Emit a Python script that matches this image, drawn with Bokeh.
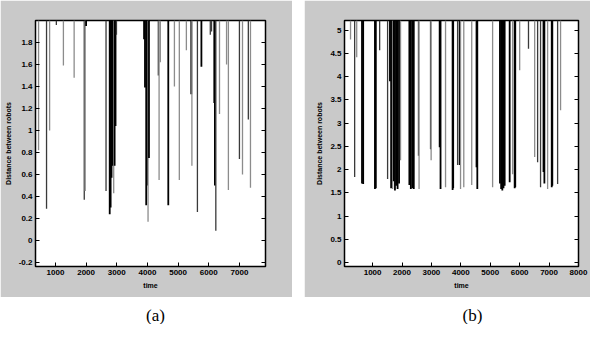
from bokeh.plotting import figure
from bokeh.layouts import row, column
from bokeh.models import FixedTicker, LinearAxis, Label, ColumnDataSource, Spacer
from bokeh.embed import file_html
from bokeh.resources import INLINE

# ---------------- data: panel (a) ----------------
top_a = 2.0
time_a = [450, 710, 810, 1030, 1260, 1610, 1940, 1970, 2000, 2650, 2770, 2800, 2830, 2870,
          2900, 2930, 2960, 2990, 3890, 3920, 3960, 3990, 4020, 4050, 4355, 4380, 4420,
          4680, 4880, 5040, 5270, 5430, 5450, 5630, 5760, 6050, 6090, 6180, 6200, 6230,
          6350, 6580, 6640, 7000, 7100, 7290, 7360]
dist_a = [0.82, 0.29, 1.0, 1.96, 1.59, 1.48, 0.37, 0.45, 1.95, 0.45, 0.24, 0.30, 0.57, 0.68,
          0.43, 0.68, 1.04, 1.87, 1.83, 1.39, 0.32, 0.50, 0.17, 0.75, 1.50, 0.55, 1.62,
          0.32, 1.40, 0.55, 1.73, 1.33, 0.68, 0.26, 1.58, 1.87, 1.90, 1.25, 0.50, 0.09,
          1.15, 1.60, 0.46, 0.74, 0.60, 1.10, 0.48]
xticks_a = [1000, 2000, 3000, 4000, 5000, 6000, 7000]
xlabels_a = ["1000", "2000", "3000", "4000", "5000", "6000", "7000"]
yticks_a = [-0.2, 0, 0.2, 0.4, 0.6, 0.8, 1.0, 1.2, 1.4, 1.6, 1.8]
ylabels_a = ["-0.2", "0", "0.2", "0.4", "0.6", "0.8", "1", "1.2", "1.4", "1.6", "1.8"]

# ---------------- data: panel (b) ----------------
top_b = 5.21
time_b = [250, 390, 460, 640, 680, 1080, 1110, 1240, 1510, 1590, 1630, 1680, 1720, 1760,
          1800, 1850, 1900, 1950, 2250, 2300, 2350, 2400, 2560, 2580, 2970, 2990, 3280,
          3310, 3480, 3720, 3740, 3890, 3960, 3990, 4100, 4370, 4520, 4540, 4560, 5080,
          5330, 5370, 5410, 5450, 5490, 5660, 5760, 5830, 5850, 6000, 6300, 6510, 6610,
          6710, 6810, 6840, 6950, 7090, 7110, 7290, 7390]
dist_b = [4.80, 1.84, 4.42, 1.70, 1.69, 1.58, 1.60, 4.57, 1.80, 3.90, 1.60, 1.58, 1.75, 1.55,
          1.65, 1.58, 1.70, 2.20, 1.67, 1.58, 1.60, 1.58, 2.30, 1.58, 2.44, 2.20, 2.48,
          1.58, 1.62, 1.56, 1.60, 2.10, 2.10, 1.58, 1.62, 1.67, 2.05, 2.05, 1.58, 1.62,
          1.70, 1.58, 1.55, 1.60, 1.65, 1.73, 1.90, 1.60, 1.62, 4.14, 4.60, 2.27, 2.16,
          1.62, 1.95, 1.70, 1.58, 1.62, 1.65, 1.69, 3.28]
xticks_b = [1000, 2000, 3000, 4000, 5000, 6000, 7000, 8000]
xlabels_b = ["1000", "2000", "3000", "4000", "5000", "6000", "7000", "8000"]
yticks_b = [0, 0.5, 1, 1.5, 2, 2.5, 3, 3.5, 4, 4.5, 5]
ylabels_b = ["0", "0.5", "1", "1.5", "2", "2.5", "3", "3.5", "4", "4.5", "5"]

panel_labels = ["(a)", "(b)"]
x_title = "time"
y_title = "Distance between robots"

# ---------------- styles (kept apart from the data) ----------------
tone_a = "gdgdggdgkdkkkkgkkdkkkkgkdggkgggkgdkddkkdgggdgdgd"[:len(time_a)]
tone_b = "gdgkkkkddkkgkkkkkgkkkkdgdgkkgkkdkggggkkgkkkkkkgkkgdgddkkgkkdg"[:len(time_b)]
tone_map = {"k": "#000000", "d": "#3a3a3a", "g": "#8c8c8c"}
width_map = {"k": 1.8, "d": 1.3, "g": 1.3}
BG = "#c9c9c9"
FONT = "Liberation Sans"


def panel(times, dists, tones, top, xr, yr, xt, xl, yt, yl, bl, fw, br):
    p = figure(frame_width=fw, frame_height=246, x_range=xr, y_range=yr,
               output_backend="svg", toolbar_location=None,
               min_border_left=bl, min_border_right=br, min_border_top=20, min_border_bottom=31,
               background_fill_color="white", border_fill_color=BG,
               outline_line_color="black", outline_line_width=1.5)
    p.grid.visible = False
    cols = [tone_map[c] for c in tones]
    wids = [width_map[c] for c in tones]
    src = ColumnDataSource(dict(t=times, d=dists, top=[top] * len(times), c=cols, w=wids))
    p.segment(x0="t", y0="top", x1="t", y1="d", source=src, line_color="c", line_width="w")
    p.xaxis.ticker = FixedTicker(ticks=xt)
    p.xaxis.major_label_overrides = {k: v for k, v in zip(xt, xl)}
    p.yaxis.ticker = FixedTicker(ticks=yt)
    p.yaxis.major_label_overrides = {k: v for k, v in zip(yt, yl)}
    p.xaxis.axis_label = x_title
    p.yaxis.axis_label = y_title
    for ax in (p.xaxis[0], p.yaxis[0]):
        ax.major_tick_in = 4
        ax.major_tick_out = 0
        ax.minor_tick_line_color = None
        ax.axis_line_color = "black"
        ax.major_label_text_font = FONT
        ax.major_label_text_font_style = "bold"
        ax.major_label_text_font_size = "8px"
        ax.major_label_text_color = "black"
        ax.axis_label_text_font = FONT
        ax.axis_label_text_font_style = "bold"
        ax.axis_label_text_font_size = "7px"
        ax.axis_label_text_color = "black"
        ax.major_label_standoff = 3
        ax.axis_label_standoff = 4
    ra = LinearAxis(ticker=FixedTicker(ticks=yt), major_tick_in=4, major_tick_out=0,
                    minor_tick_line_color=None, major_label_text_font_size="8px",
                    major_label_overrides={k: "" for k in yt})
    p.add_layout(ra, "right")
    return p


pa = panel(time_a, dist_a, tone_a, top_a, (350, 7850), (-0.236, 2.0),
           xticks_a, xlabels_a, yticks_a, ylabels_a, 35, 230, 27)
pb = panel(time_b, dist_b, tone_b, top_b, (45, 8000), (-0.086, 5.21),
           xticks_b, xlabels_b, yticks_b, ylabels_b, 40, 234, 12)

strip = figure(width=590, height=27, x_range=(0, 590), y_range=(0, 27),
               output_backend="svg", toolbar_location=None,
               min_border=0, outline_line_color=None,
               background_fill_color="white", border_fill_color="white")
strip.axis.visible = False
strip.grid.visible = False
for txt, xx in zip(panel_labels, [155, 472]):
    strip.add_layout(Label(x=xx, y=9, x_units="screen", y_units="screen", text=txt,
                           text_align="center", text_baseline="middle",
                           text_font="Liberation Serif", text_font_size="17px",
                           text_color="black"))

layout = column(row(pa, Spacer(width=12), pb), strip)
open("out.html", "w").write(file_html(layout, INLINE))
